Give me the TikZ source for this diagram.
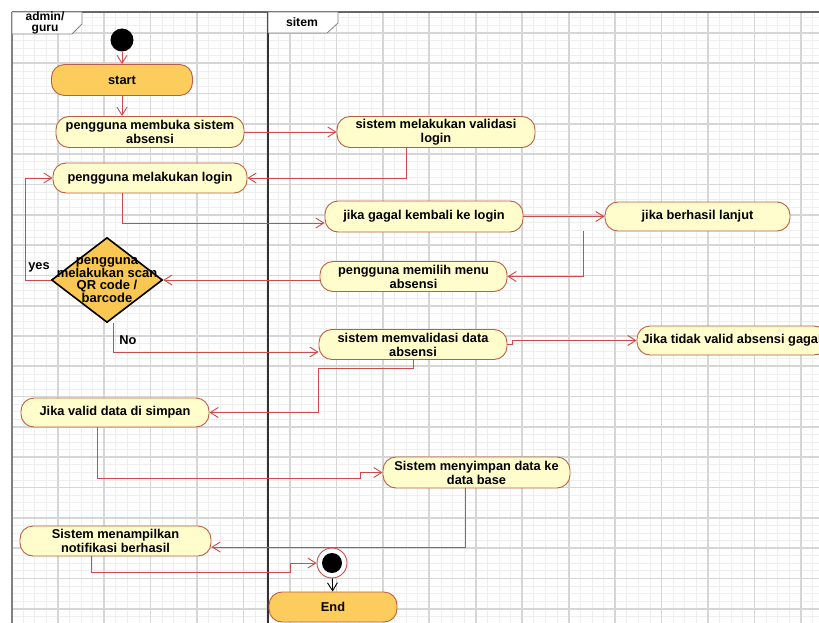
\documentclass[tikz,border=0pt]{standalone}
\usepackage{fontspec}
\setmainfont{Liberation Sans}
\usetikzlibrary{arrows.meta,shapes.geometric}
\definecolor{boxfill}{RGB}{255,253,204}
\definecolor{boxborder}{RGB}{185,95,70}
\definecolor{flowred}{RGB}{205,75,75}
\definecolor{startfill}{RGB}{252,205,92}
\definecolor{diafill}{RGB}{250,200,82}
\definecolor{minorg}{RGB}{238,238,238}
\definecolor{majorg}{RGB}{214,214,214}
\tikzset{
  txt/.style={font=\bfseries\fontsize{12.8}{14}\selectfont, align=center},
  act/.style={txt, draw=boxborder, line width=0.9pt, fill=boxfill, rounded corners=13pt, inner sep=0pt},
  term/.style={act, fill=startfill},
  flow/.style={draw=flowred, line width=0.9pt, -{Straight Barb[length=8pt,width=10pt]}},
  minorgrid/.style={draw=minorg, line width=0.7pt},
  majorgrid/.style={draw=majorg, line width=1.7pt},
  hdr/.style={draw=gray, fill=white, line width=0.8pt}
}
\begin{document}
\begin{tikzpicture}[x=1pt,y=-1pt]
\useasboundingbox (0,0) rectangle (819,623);
\fill[white] (0,0) rectangle (819,623);
% grid
\begin{scope}
\clip (12,12) rectangle (819,623);
\foreach \i in {0,...,70} \draw[minorgrid] ({11.25+\i*11.6125},0) -- ({11.25+\i*11.6125},623);
\foreach \j in {0,...,83} \draw[minorgrid] (0,{2.7+\j*7.575}) -- (819,{2.7+\j*7.575});
\foreach \i in {0,...,17} \draw[majorgrid] ({11.25+\i*46.45},0) -- ({11.25+\i*46.45},623);
\foreach \j in {0,...,21} \draw[majorgrid] (0,{2.7+\j*30.3}) -- (819,{2.7+\j*30.3});
\end{scope}
% frame and lanes
\draw[gray!80!black, line width=1.2pt] (12,12) -- (819,12);
\draw[gray, line width=2pt] (12,12) -- (12,623);
\draw[black!80, line width=2pt] (268,12) -- (268,623);
\draw[hdr] (12,12) -- (82,12) -- (82,24) -- (72,34) -- (12,34) -- cycle;
\draw[hdr] (268,12) -- (338,12) -- (338,23) -- (327,33) -- (268,33) -- cycle;
\node[font=\bfseries\fontsize{12}{11}\selectfont, align=center] (lane1) at (45,23) {admin/\\guru};
\node[font=\bfseries\fontsize{12.2}{11}\selectfont] (lane2) at (302,22) {sitem};

% nodes
\node[circle, fill=black, minimum size=23pt, inner sep=0pt] (init) at (122,40) {};
\node[term, minimum width=141pt, minimum height=31pt] (start) at (122,80) {start};
\node[act, minimum width=188pt, minimum height=31pt] (membuka) at (150,132) {pengguna membuka sistem\\absensi};
\node[act, minimum width=198pt, minimum height=31pt] (validasi) at (436,132) {sistem melakukan validasi\\login};
\node[act, minimum width=194pt, minimum height=30pt] (login) at (150,178) {pengguna melakukan login};
\node[act, minimum width=198pt, minimum height=31pt] (gagal) at (424,216.5) {jika gagal kembali ke login};
\node[act, minimum width=185pt, minimum height=29pt] (berhasil) at (697.5,216.5) {jika berhasil lanjut};
\node[act, minimum width=187pt, minimum height=30pt] (memilih) at (413.5,276.5) {pengguna memilih menu\\absensi};
\node[diamond, draw=black, line width=1.6pt, fill=diafill, minimum width=111pt, minimum height=85pt, inner sep=0pt] (dia) at (107,280) {};
\node[txt, font=\bfseries\fontsize{13}{11.2}\selectfont] (diatext) at (107,280) {pengguna\\melakukan scan\\QR code /\\barcode};
\node[act, minimum width=188pt, minimum height=30pt] (memvalidasi) at (413,344.5) {sistem memvalidasi data\\absensi};
\node[act, minimum width=190pt, minimum height=29pt] (tidak) at (732,340.5) {Jika tidak valid absensi gagal};
\node[act, minimum width=188pt, minimum height=29pt] (simpan) at (115,412.5) {Jika valid data di simpan};
\node[act, minimum width=187pt, minimum height=31pt] (menyimpan) at (476.5,472.5) {Sistem menyimpan data ke\\data base};
\node[act, minimum width=191pt, minimum height=30pt] (notif) at (115.5,541) {Sistem menampilkan\\notifikasi berhasil};
\node[circle, draw=flowred, line width=0.9pt, fill=white, minimum size=30pt, inner sep=0pt,
      path picture={\fill[black] (path picture bounding box.center) circle (10pt);}] (final) at (332,563) {};
\node[term, minimum width=128pt, minimum height=30pt] (end) at (333,607) {End};

% labels
\node[txt] (yes) at (39,267) {yes};
\node[txt] (no) at (128,340) {No};

% connectors
\draw[flow] (init) -- (start);
\draw[flow] (start.south) -- (start.south |- membuka.north);
\draw[flow] (membuka) -- (validasi);
\draw[flow] ([xshift=-30pt]validasi.south) |- (login.east);
\draw[flow] ([xshift=-28pt]login.south) |- ([yshift=-6.5pt]gagal.west);
\draw[flow] (gagal) -- (berhasil);
\draw[flow] ([xshift=-114.5pt]berhasil.south) |- (memilih.east);
\draw[flow] (memilih.west |- dia.east) -- (dia.east);
\draw[flow] (dia.west) -- ++(-25pt,0) |- (login.west);
\draw[flow] ([xshift=6pt]dia.south) |- ([yshift=-7.5pt]memvalidasi.west);
\draw[flow] (memvalidasi.east) -- ++(5pt,0) |- (tidak.west);
\draw[flow] (memvalidasi.south) -- ++(0,-8pt) -- ++(-95pt,0) |- (simpan.east);
\draw[flow] ([xshift=-18pt]simpan.south) -- ++(0,-51pt) -- ++(263pt,0) |- (menyimpan.west);
\draw[flow] ([xshift=-11.5pt]menyimpan.south) |- ([yshift=-6pt]notif.east);
\draw[flow] ([xshift=-24.5pt]notif.south) -- ++(0,-16pt) -- ++(199pt,0) |- (final.west);
\draw[line width=0.9pt, -{Straight Barb[length=8pt,width=10pt]}] (final) -- (end);
\end{tikzpicture}
\end{document}
